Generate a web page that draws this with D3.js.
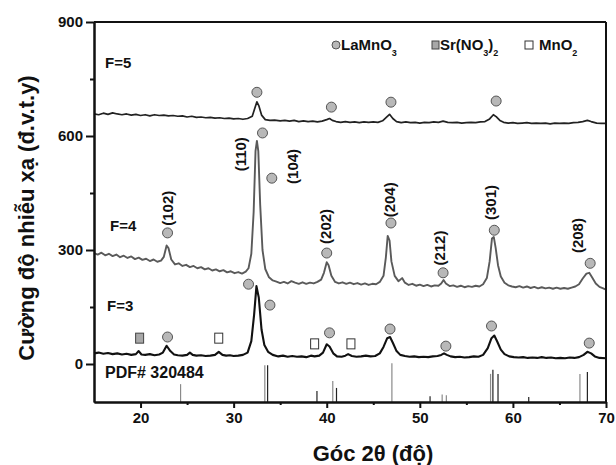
<!DOCTYPE html>
<html><head><meta charset="utf-8">
<script src="https://cdn.jsdelivr.net/npm/d3@7"></script>
<style>
body{margin:0;background:#fff;}
text{font-family:"Liberation Sans",Arial,sans-serif;font-weight:bold;fill:#111;}
</style></head>
<body><svg id="c" width="616" height="465"></svg>
<script>
// ---- data ----
const xTicks = [20,30,40,50,60,70];
const xMinor = [25,35,45,55,65];
const yTicks = [0,300,600,900];
const yMinor = [150,450,750];

// F=5 pattern [2theta, intensity]
const seriesF5 = [[15,658],[15.5,656],[16,660],[16.5,657],[17,661],[17.5,658],[18,656],[18.5,658],[19,655],[19.5,657],[20,654],[20.5,656],[21,653],[21.5,656],[22,654],[22.5,655],[23,653],[23.5,654],[24,652],[24.5,653],[25,650],[25.5,652],[26,649],[26.5,650],[27,648],[27.5,649],[28,647],[28.5,648],[29,646],[29.5,647],[30,645],[30.5,646],[31,644],[31.5,646],[32.0,652],[32.3,675],[32.5,690],[32.7,680],[33.0,655],[33.4,643],[33.9,641],[34.4,642],[35,640],[35.5,641],[36,639],[36.5,641],[37,638],[37.5,640],[38,638],[38.5,639],[39,637],[39.5,639],[40.0,643],[40.3,646],[40.6,641],[41,638],[41.5,636],[42,638],[42.5,636],[43,637],[43.5,635],[44,637],[44.5,636],[45,637],[45.5,636],[46.0,640],[46.4,649],[46.75,657],[47.1,646],[47.5,638],[48,635],[48.5,637],[49,635],[49.5,636],[50,634],[50.5,636],[51,635],[51.5,637],[52,636],[52.5,639],[53,636],[53.5,635],[54,636],[54.5,634],[55,635],[55.5,636],[56,635],[56.5,637],[57,638],[57.5,645],[57.9,656],[58.2,651],[58.6,641],[59,636],[59.5,634],[60,635],[60.5,633],[61,634],[61.5,635],[62,633],[62.5,634],[63,633],[63.5,634],[64,632],[64.5,634],[65,633],[65.5,634],[66,633],[66.5,635],[67,636],[67.5,638],[68,641],[68.4,638],[69,634],[69.5,633],[70,633]];

// F=4 pattern
const seriesF4 = [[15,292],[15.4,288],[15.8,293],[16.2,286],[16.6,290],[17,284],[17.4,288],[17.8,281],[18.2,285],[18.6,279],[19,283],[19.4,276],[19.8,280],[20.2,274],[20.6,277],[21,271],[21.4,275],[21.8,269],[22.2,272],[22.5,282],[22.8,312],[23.0,305],[23.3,275],[23.7,262],[24.1,265],[24.5,258],[24.9,261],[25.3,255],[25.7,258],[26.1,252],[26.5,255],[26.9,249],[27.3,252],[27.7,246],[28.1,249],[28.5,244],[28.9,247],[29.3,241],[29.7,244],[30.1,239],[30.5,242],[30.9,238],[31.3,243],[31.6,252],[31.9,290],[32.15,400],[32.35,560],[32.5,587],[32.65,560],[32.85,420],[33.1,300],[33.4,250],[33.8,228],[34.2,220],[34.6,217],[35.0,213],[35.4,216],[35.8,212],[36.2,218],[36.6,214],[37.0,211],[37.4,215],[37.8,211],[38.2,214],[38.6,212],[39.0,216],[39.4,222],[39.7,240],[40.0,268],[40.2,260],[40.5,232],[40.9,216],[41.3,212],[41.7,215],[42.1,211],[42.5,214],[42.9,210],[43.3,213],[43.7,209],[44.1,212],[44.5,208],[44.9,211],[45.3,210],[45.7,216],[46.1,232],[46.35,280],[46.55,337],[46.75,325],[46.95,270],[47.3,232],[47.7,218],[48.1,226],[48.4,214],[48.8,208],[49.2,211],[49.6,206],[50.0,209],[50.4,205],[50.8,208],[51.2,204],[51.6,207],[52.0,206],[52.3,212],[52.55,221],[52.8,212],[53.2,205],[53.6,207],[54.0,203],[54.4,206],[54.8,202],[55.2,205],[55.6,203],[56.0,206],[56.4,204],[56.8,210],[57.2,226],[57.5,270],[57.75,330],[57.95,334],[58.15,305],[58.4,260],[58.7,230],[59.1,214],[59.5,207],[59.9,204],[60.3,202],[60.7,205],[61.1,201],[61.5,204],[61.9,200],[62.3,203],[62.7,199],[63.1,202],[63.5,199],[63.9,201],[64.3,198],[64.7,201],[65.1,198],[65.5,200],[65.9,198],[66.3,201],[66.7,204],[67.1,210],[67.5,225],[67.9,238],[68.2,240],[68.5,228],[68.9,212],[69.3,203],[69.7,199],[70,196]];

// F=3 pattern
const seriesF3 = [[15,28],[15.5,30],[16,27],[16.5,29],[17,26],[17.5,28],[18,25],[18.5,27],[19,24],[19.5,26],[19.8,34],[20.1,25],[20.5,24],[21,26],[21.5,23],[22,25],[22.4,30],[22.8,48],[23.2,34],[23.6,25],[24,23],[24.5,22],[25,24],[25.3,30],[25.6,24],[26,22],[26.5,23],[27,21],[27.5,22],[28,24],[28.4,32],[28.8,24],[29.2,22],[29.6,23],[30,21],[30.5,22],[31,24],[31.5,30],[31.9,60],[32.2,130],[32.45,205],[32.7,175],[33.0,90],[33.3,50],[33.7,32],[34.2,24],[34.8,20],[35.3,22],[35.8,19],[36.3,21],[36.8,19],[37.3,20],[37.8,18],[38.3,22],[38.7,20],[39.2,22],[39.6,30],[40.0,52],[40.3,46],[40.7,28],[41.1,20],[41.6,19],[42.0,22],[42.3,26],[42.7,21],[43.2,19],[43.7,20],[44.2,22],[44.7,20],[45.2,21],[45.7,28],[46.1,45],[46.5,68],[46.8,71],[47.1,56],[47.5,34],[47.9,24],[48.4,21],[48.9,19],[49.4,20],[49.9,18],[50.4,19],[50.9,18],[51.4,20],[51.9,21],[52.3,24],[52.6,28],[52.9,24],[53.3,20],[53.8,18],[54.3,19],[54.8,17],[55.3,18],[55.8,20],[56.3,19],[56.8,24],[57.3,42],[57.7,68],[58.0,75],[58.3,60],[58.7,38],[59.1,26],[59.6,20],[60.1,18],[60.6,17],[61.1,18],[61.6,16],[62.1,17],[62.6,16],[63.1,18],[63.6,16],[64.1,17],[64.6,15],[65.1,16],[65.6,15],[66.1,17],[66.6,16],[67.1,18],[67.6,24],[68.0,32],[68.4,28],[68.8,20],[69.3,16],[70,15]];

// PDF# 320484 reference sticks [2theta, top]
const pdfGray  = [[24.3,-53],[33.35,-3],[40.65,-45],[47.0,2],[52.4,-80],[52.85,-82],[57.6,-26],[67.2,-26]];
const pdfBlack = [[33.65,-3],[38.95,-71],[41.05,-63],[51.1,-85],[57.85,-15],[58.4,-26],[61.7,-87],[68.0,-21]];

// phase markers [2theta, y]
const markLa = [[32.5,715],[40.5,676],[46.9,689],[58.2,692],
  [22.9,345],[33.1,608],[34.1,489],[40.0,292],[46.9,371],[52.5,240],[58.0,352],[68.3,265],
  [22.9,71],[31.6,210],[33.9,155],[40.3,82],[46.8,92],[52.8,47],[57.7,100],[68.2,55]];
const markSr = [[19.9,68]];
const markMn = [[28.4,68],[38.7,53],[42.6,53]];

// hkl labels
const hklText = ["(102)","(110)","(104)","(202)","(204)","(212)","(301)","(208)"];
const hklX    = [22.9,30.8,36.4,39.9,46.8,52.2,57.7,67.0];
const hklY    = [410,552,520,362,432,305,425,338];

const seriesLabels = [["F=5",780],["F=4",350],["F=3",140]];

// ---- chart ----
const svg = d3.select("#c");
const x = d3.scaleLinear().domain([15,70]).range([94,606]);
const y = d3.scaleLinear().domain([-100,900]).range([402,22]);

// sticks
const sticks = pdfGray.map(d=>({d,c:"#8a8a8a"})).concat(pdfBlack.map(d=>({d,c:"#222"})));
svg.append("g").selectAll("line").data(sticks).join("line")
  .attr("x1",s=>x(s.d[0])).attr("x2",s=>x(s.d[0]))
  .attr("y1",y(-100)).attr("y2",s=>y(s.d[1]))
  .attr("stroke",s=>s.c).attr("stroke-width",1.2);

const line = d3.line().x(d=>x(d[0])).y(d=>y(d[1]));
svg.append("path").datum(seriesF5).attr("d",line).attr("fill","none").attr("stroke","#222").attr("stroke-width",1.7).attr("stroke-linejoin","round");
svg.append("path").datum(seriesF4).attr("d",line).attr("fill","none").attr("stroke","#5a5a5a").attr("stroke-width",1.9).attr("stroke-linejoin","round");
svg.append("path").datum(seriesF3).attr("d",line).attr("fill","none").attr("stroke","#111").attr("stroke-width",2.1).attr("stroke-linejoin","round");

// markers
svg.append("g").selectAll("circle").data(markLa).join("circle")
  .attr("cx",d=>x(d[0])).attr("cy",d=>y(d[1])).attr("r",5)
  .attr("fill","#b8b8b8").attr("stroke","#555").attr("stroke-width",1);
svg.append("g").selectAll("rect").data(markSr).join("rect")
  .attr("x",d=>x(d[0])-4).attr("y",d=>y(d[1])-5).attr("width",8).attr("height",10)
  .attr("fill","#a8a8a8").attr("stroke","#444").attr("stroke-width",1);
svg.append("g").selectAll("rect").data(markMn).join("rect")
  .attr("x",d=>x(d[0])-4).attr("y",d=>y(d[1])-5).attr("width",8).attr("height",10)
  .attr("fill","#fff").attr("stroke","#333").attr("stroke-width",1);

// hkl labels
svg.append("g").selectAll("text").data(hklText).join("text")
  .attr("transform",(t,i)=>`translate(${x(hklX[i])+5},${y(hklY[i])}) rotate(-90)`)
  .attr("text-anchor","middle").attr("font-size",15).text(t=>t);

// series labels
svg.append("g").selectAll("text").data(seriesLabels).join("text")
  .attr("x",(d,i)=>[105,110,107][i]).attr("y",d=>y(d[1])).attr("font-size",15).text(d=>d[0]);
svg.append("text").attr("x",105).attr("y",378).attr("font-size",16).text("PDF# 320484");

// axes
const gx = svg.append("g").attr("transform","translate(0,402)");
gx.call(d3.axisBottom(x).tickValues(xTicks).tickSize(6).tickSizeOuter(0).tickPadding(4));
const gxm = svg.append("g").attr("transform","translate(0,402)");
gxm.call(d3.axisBottom(x).tickValues(xMinor).tickSize(3).tickSizeOuter(0).tickFormat(""));
const gy = svg.append("g").attr("transform","translate(94,0)");
gy.call(d3.axisLeft(y).tickValues(yTicks).tickSize(8).tickSizeOuter(0).tickPadding(3));
const gym = svg.append("g").attr("transform","translate(94,0)");
gym.call(d3.axisLeft(y).tickValues(yMinor).tickSize(4).tickSizeOuter(0).tickFormat(""));
svg.selectAll(".domain").attr("stroke","#111").attr("stroke-width",2);
svg.selectAll(".tick line").attr("stroke","#111").attr("stroke-width",2);
svg.selectAll(".tick text").attr("font-size",15).attr("font-weight","bold").attr("fill","#111")
  .attr("font-family","Liberation Sans, Arial, sans-serif");
// frame top/right
svg.append("line").attr("x1",x(15)).attr("x2",x(70)).attr("y1",y(900)).attr("y2",y(900)).attr("stroke","#111").attr("stroke-width",2);
svg.append("line").attr("x1",x(70)).attr("x2",x(70)).attr("y1",y(900)).attr("y2",y(-100)).attr("stroke","#111").attr("stroke-width",2);

// legend
const lg = svg.append("g");
lg.append("circle").attr("cx",336).attr("cy",45).attr("r",4).attr("fill","#b8b8b8").attr("stroke","#555");
const t1 = lg.append("text").attr("x",341).attr("y",50).attr("font-size",15);
t1.append("tspan").text("LaMnO");
t1.append("tspan").attr("font-size",9).attr("dy",6).text("3");
lg.append("rect").attr("x",432).attr("y",41).attr("width",7).attr("height",8).attr("fill","#a8a8a8").attr("stroke","#444");
const t2 = lg.append("text").attr("x",440).attr("y",50).attr("font-size",15);
t2.append("tspan").text("Sr(NO");
t2.append("tspan").attr("font-size",9).attr("dy",6).text("3");
t2.append("tspan").attr("dy",-6).text(")");
t2.append("tspan").attr("font-size",9).attr("dy",6).text("2");
lg.append("rect").attr("x",525).attr("y",41).attr("width",8).attr("height",8).attr("fill","#fff").attr("stroke","#333");
const t3 = lg.append("text").attr("x",539).attr("y",50).attr("font-size",15);
t3.append("tspan").text("MnO");
t3.append("tspan").attr("font-size",9).attr("dy",6).text("2");

// axis titles
svg.append("text").attr("transform","translate(34,218) rotate(-90)").attr("text-anchor","middle")
  .attr("font-size",22).text("Cường độ nhiễu xạ  (đ.v.t.y)");
svg.append("text").attr("x",373).attr("y",461).attr("text-anchor","middle").attr("font-size",22).text("Góc 2θ (độ)");
</script></body></html>
